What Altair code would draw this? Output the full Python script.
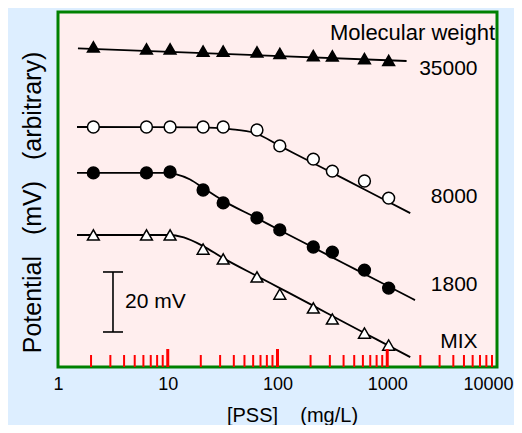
import altair as alt
import pandas as pd

# ---------------- data ----------------
conc = [2.1, 6.4, 10.5, 21, 32, 65, 105, 212, 316, 620, 1030]   # [PSS] mg/L
series = ["35000", "8000", "1800", "MIX"]
pot_35000 = [106.7, 106.0, 106.0, 105.3, 105.3, 105.0, 104.5, 103.8, 103.7, 102.8, 102.2]
pot_8000 = [80.0, 80.0, 80.0, 80.0, 80.0, 79.0, 73.7, 69.3, 65.3, 62.0, 56.3]
pot_1800 = [64.7, 64.7, 65.0, 59.0, 54.7, 49.7, 45.7, 40.0, 38.3, 32.3, 26.3]
pot_mix = [44.0, 44.0, 44.0, 39.3, 36.0, 30.0, 24.3, 19.7, 16.0, 11.3, 7.3]

cx_35000 = [1.52, 1500]
cy_35000 = [106.2, 102.0]
cx_8000 = [1.49, 20, 37, 62, 105, 200, 400, 800, 1620]
cy_8000 = [80.0, 79.9, 79.3, 78.0, 73.7, 68.4, 62.8, 57.1, 51.3]
cx_1800 = [1.49, 9.4, 12, 16, 21, 31, 65, 105, 215, 400, 800, 1790]
cy_1800 = [64.7, 64.7, 64.2, 62.5, 59.7, 55.7, 49.6, 45.6, 39.7, 34.6, 28.9, 22.3]
cx_mix = [1.49, 10, 14, 21, 32, 65, 105, 215, 400, 800, 1620]
cy_mix = [44.0, 44.0, 43.2, 40.3, 36.3, 30.3, 26.3, 20.3, 15.0, 9.2, 3.3]

label_x = [6650, 6650, 6650, 6650]
label_y = [99.2, 56.5, 27.3, 8.3]
title_label = "Molecular weight"
title_label_x = 9590
title_label_y = 111.3

bar_x = 3.17
bar_x_left = 2.57
bar_x_right = 3.91
bar_y_low = 11.67
bar_y_high = 31.67
bar_text = "20 mV"
bar_text_x = 4.08
bar_text_y = 21.7

major_ticks = [1, 10, 100, 1000, 10000]
inner_major = [10, 100, 1000]
inner_minor = [2, 3, 4, 5, 6, 7, 8, 9, 20, 30, 40, 50, 60, 70, 80, 90,
               200, 300, 400, 500, 600, 700, 800, 900,
               2000, 3000, 4000, 5000, 6000, 7000, 8000, 9000]

NB = "\u00a0"
x_title = "[PSS]" + NB * 4 + "(mg/L)"
y_title = "Potential" + NB * 3 + "(mV)" + NB * 3 + "(arbitrary)"

pts = pd.DataFrame({
    "conc": conc * 4,
    "pot": pot_35000 + pot_8000 + pot_1800 + pot_mix,
    "series": sum([[s] * len(conc) for s in series], []),
})
curves = pd.DataFrame({
    "conc": cx_35000 + cx_8000 + cx_1800 + cx_mix,
    "pot": cy_35000 + cy_8000 + cy_1800 + cy_mix,
    "series": ["35000"] * len(cx_35000) + ["8000"] * len(cx_8000)
              + ["1800"] * len(cx_1800) + ["MIX"] * len(cx_mix),
})
labels = pd.DataFrame({"conc": label_x, "pot": label_y, "text": series})
mw = pd.DataFrame({"conc": [title_label_x], "pot": [title_label_y], "text": [title_label]})
bar_v = pd.DataFrame({"x": [bar_x], "y": [bar_y_low], "y2": [bar_y_high]})
bar_h = pd.DataFrame({"x": [bar_x_left, bar_x_left], "x2": [bar_x_right, bar_x_right],
                      "y": [bar_y_low, bar_y_high]})
bar_t = pd.DataFrame({"conc": [bar_text_x], "pot": [bar_text_y], "text": [bar_text]})
tmaj = pd.DataFrame({"conc": inner_major})
tmin = pd.DataFrame({"conc": inner_minor})

FONT = "Liberation Sans"
W, H = 439, 355
YMAX = 118.33

xscale = alt.Scale(type="log", domain=[1, 10000])
yscale = alt.Scale(domain=[0, YMAX], nice=False, zero=False)

X = alt.X("conc:Q", scale=xscale, axis=alt.Axis(
    values=major_ticks, format="d", labelFontSize=18, labelFont=FONT,
    labelColor="black", ticks=False, domain=False, grid=False,
    labelPadding=8, labelFlush=False,
    labelOffset={"condition": {"test": "datum.value == 10000", "value": -9}, "value": 0},
    title=x_title,
    titleFont=FONT, titleFontSize=20, titleFontWeight="normal",
    titleColor="black", titlePadding=12, titleX=234))
Y = alt.Y("pot:Q", scale=yscale, axis=alt.Axis(
    labels=False, ticks=False, domain=False, grid=False,
    title=y_title, titleFont=FONT, titleFontSize=25,
    titleFontWeight="normal", titleColor="black", titlePadding=13, titleY=190))

curve_layer = alt.Chart(curves).mark_line(
    color="black", strokeWidth=1.8, interpolate="monotone"
).encode(x=X, y=Y, detail="series:N")

point_layer = alt.Chart(pts).mark_point(
    filled=True, stroke="black", strokeWidth=1.5, opacity=1, size=140
).encode(
    x=X, y=Y,
    shape=alt.Shape("series:N", scale=alt.Scale(
        domain=series, range=["triangle-up", "circle", "circle", "triangle-up"]), legend=None),
    fill=alt.Fill("series:N", scale=alt.Scale(
        domain=series, range=["black", "white", "black", "white"]), legend=None),
)

label_layer = alt.Chart(labels).mark_text(
    align="right", baseline="middle", fontSize=21, font=FONT, color="black"
).encode(x=X, y=Y, text="text:N")

mw_layer = alt.Chart(mw).mark_text(
    align="right", baseline="middle", fontSize=22, font=FONT, color="black"
).encode(x=X, y=Y, text="text:N")

bar_v_layer = alt.Chart(bar_v).mark_rule(color="black", strokeWidth=1.6).encode(
    x=alt.X("x:Q", scale=xscale), y=alt.Y("y:Q", scale=yscale), y2="y2:Q")
bar_h_layer = alt.Chart(bar_h).mark_rule(color="black", strokeWidth=1.6).encode(
    x=alt.X("x:Q", scale=xscale), x2="x2:Q", y=alt.Y("y:Q", scale=yscale))
bar_t_layer = alt.Chart(bar_t).mark_text(
    align="left", baseline="middle", fontSize=21, font=FONT, color="black"
).encode(x=X, y=Y, text="text:N")

tmaj_layer = alt.Chart(tmaj).mark_rule(color="red", strokeWidth=3).encode(
    x=alt.X("conc:Q", scale=xscale),
    y=alt.Y(datum=0, scale=yscale), y2=alt.Y2(datum=6))
tmin_layer = alt.Chart(tmin).mark_rule(color="red", strokeWidth=2).encode(
    x=alt.X("conc:Q", scale=xscale),
    y=alt.Y(datum=0, scale=yscale), y2=alt.Y2(datum=4))

chart = alt.layer(
    curve_layer, point_layer, label_layer, mw_layer,
    bar_v_layer, bar_h_layer, bar_t_layer, tmaj_layer, tmin_layer
).properties(
    width=W, height=H,
    autosize=alt.AutoSizeParams(type="none"),
    padding={"left": 50, "top": 4, "right": 17, "bottom": 58},
    background="#ddeeff",
).configure_view(stroke="green", strokeWidth=3, fill="#ffeeee")

chart.save("out.html", embed_options={"renderer": "svg", "actions": False})
